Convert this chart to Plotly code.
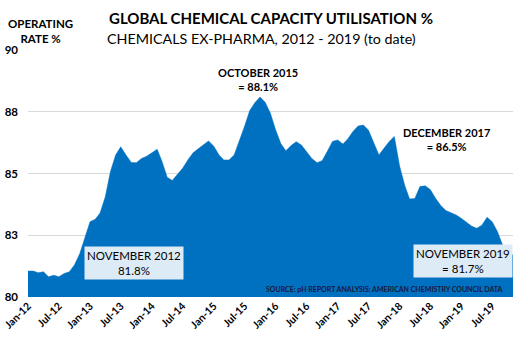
import pandas as pd
import plotly.graph_objects as go

months = pd.date_range("2012-01-01", "2019-11-01", freq="MS")

operating_rate = [
    81.05, 81.05, 80.98, 81.02, 80.82, 80.88, 80.82, 80.95, 81.02, 81.30,
    81.75, 82.35, 83.05, 83.15, 83.40, 84.06, 85.07, 85.75, 86.08, 85.75,
    85.45, 85.44, 85.61, 85.70, 85.85, 85.98, 85.50, 84.85, 84.72, 84.95,
    85.21, 85.55, 85.84, 86.00, 86.15, 86.32, 86.10, 85.75, 85.55, 85.55,
    85.75, 86.30, 86.90, 87.55, 87.87, 88.10, 87.87, 87.44, 86.76, 86.20,
    85.92, 86.13, 86.29, 86.15, 85.90, 85.61, 85.44, 85.52, 85.90, 86.30,
    86.36, 86.19, 86.40, 86.70, 86.92, 86.96, 86.76, 86.29, 85.75, 86.02,
    86.30, 86.50, 85.30, 84.50, 83.97, 83.99, 84.47, 84.50, 84.35, 84.00,
    83.70, 83.50, 83.40, 83.32, 83.18, 83.00, 82.87, 82.78, 82.90, 83.23,
    83.05, 82.65, 82.10, 81.80, 81.70,
]

tick_dates = pd.date_range("2012-01-01", "2019-07-01", freq="6MS")
tick_labels = [d.strftime("%b-%y") for d in tick_dates]

y_ticks = [80, 82.5, 85, 87.5, 90]
y_tick_labels = ["80", "83", "85", "88", "90"]

FONT = "Lato"
BLUE = "#0070C0"

fig = go.Figure()
fig.add_trace(go.Scatter(
    x=months, y=operating_rate, mode="lines",
    line=dict(color=BLUE, width=0.5),
    fill="tozeroy", fillcolor=BLUE, hoverinfo="skip",
))

fig.update_layout(
    width=528, height=345,
    margin=dict(l=28, r=15, t=50, b=48),
    paper_bgcolor="white", plot_bgcolor="white",
    showlegend=False,
    font=dict(family=FONT, color="black"),
    xaxis=dict(
        range=[months[0], months[-1]], automargin=False,
        tickvals=list(tick_dates), ticktext=tick_labels,
        tickangle=-45, showgrid=False, zeroline=False, showline=False,
        tickfont=dict(family=FONT, size=10.5, color="black", weight="bold"),
        ticks="",
    ),
    yaxis=dict(
        range=[80, 90], tickvals=y_ticks, ticktext=y_tick_labels,
        automargin=False, ticklabelstandoff=9,
        showgrid=True, gridcolor="#d9d9d9", gridwidth=1,
        zeroline=False, showline=False, ticks="",
        tickfont=dict(family=FONT, size=11.5, color="black", weight="bold"),
    ),
)

def px(xp):
    return (xp - 28) / 485

def py(yp):
    return (297 - yp) / 247

def ann(text, x, y, size, bg=None, xanchor="center", color="black", bold=True):
    fig.add_annotation(
        text=text, xref="paper", yref="paper", x=x, y=y,
        xanchor=xanchor, yanchor="middle", showarrow=False,
        font=dict(family=FONT, size=size, color=color, weight="bold" if bold else "normal"),
        bgcolor=bg, borderpad=2, align="center",
    )

ann("GLOBAL CHEMICAL CAPACITY UTILISATION %", px(271), py(18), 15)
ann("CHEMICALS EX-PHARMA, 2012 - 2019 (to date)", px(261), py(39), 14.3, bold=False)
ann("OPERATING<br>RATE %", px(40), py(31), 11.5)
ann("OCTOBER 2015<br>= 88.1%", px(258), py(79.5), 11)
ann("DECEMBER 2017<br>= 86.5%", px(446), py(139.5), 11)
ann("NOVEMBER 2012<br>81.8%", px(134), py(262.5), 11.5, bg="#DDEBF7", bold=False)
ann("NOVEMBER 2019<br>= 81.7%", px(463), py(261), 11.5, bg="#DDEBF7", bold=False)
ann("SOURCE: pH REPORT ANALYSIS: AMERICAN CHEMISTRY COUNCIL DATA", px(505.7), py(289.3), 7,
    xanchor="right", color="#1a1a3a")

fig.write_html("out.html")
